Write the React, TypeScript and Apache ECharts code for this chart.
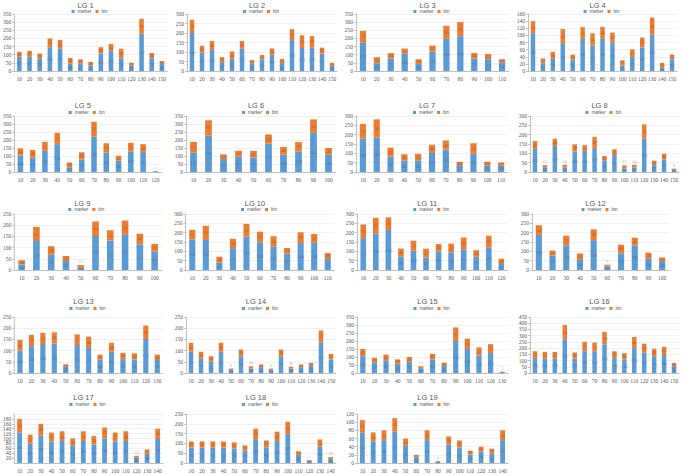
import React, { useEffect, useRef } from "react";
import * as echarts from "echarts";

const cats10 = ["10", "20", "30", "40", "50", "60", "70", "80", "90", "100"];
const cats11 = ["10", "20", "30", "40", "50", "60", "70", "80", "90", "100", "110"];
const cats12 = ["10", "20", "30", "40", "50", "60", "70", "80", "90", "100", "110", "120"];
const cats13 = ["10", "20", "30", "40", "50", "60", "70", "80", "90", "100", "110", "120", "130"];
const cats14 = ["10", "20", "30", "40", "50", "60", "70", "80", "90", "100", "110", "120", "130", "140"];
const cats15 = ["10", "20", "30", "40", "50", "60", "70", "80", "90", "100", "110", "120", "130", "140", "150"];

const lg1Marker = [87, 87, 76, 146, 137, 46, 47, 35, 107, 122, 78, 33, 229, 78, 48];
const lg1Bin = [31, 37, 31, 54, 54, 34, 25, 21, 39, 44, 59, 18, 92, 33, 13];
const lg2Marker = [200, 97, 110, 47, 65, 117, 41, 61, 85, 42, 163, 121, 122, 91, 29];
const lg2Bin = [70, 36, 48, 26, 38, 41, 16, 23, 34, 21, 57, 67, 62, 32, 14];
const lg3Marker = [173, 48, 76, 106, 43, 119, 198, 214, 77, 72, 54];
const lg3Bin = [73, 37, 34, 32, 29, 37, 80, 87, 34, 32, 18];
const lg4Marker = [106, 22, 34, 76, 32, 90, 72, 90, 79, 15, 39, 66, 102, 10, 33];
const lg4Bin = [34, 13, 20, 42, 14, 33, 34, 34, 29, 15, 22, 28, 48, 13, 13];
const lg5Marker = [104, 89, 132, 174, 29, 78, 222, 122, 70, 127, 125, 3];
const lg5Bin = [44, 49, 57, 71, 30, 46, 92, 58, 32, 55, 49, 2];
const lg6Marker = [121, 228, 81, 97, 91, 177, 108, 128, 245, 108];
const lg6Bin = [67, 95, 29, 36, 41, 58, 48, 59, 84, 42];
const lg7Marker = [180, 184, 83, 62, 62, 102, 120, 37, 98, 36, 34];
const lg7Bin = [77, 98, 47, 33, 35, 44, 49, 18, 56, 19, 17];
const lg8Marker = [123, 25, 139, 23, 110, 113, 129, 63, 91, 19, 25, 180, 37, 67, 12];
const lg8Bin = [43, 12, 40, 16, 38, 31, 59, 23, 31, 17, 14, 75, 24, 31, 6];
const lg9Marker = [25, 129, 68, 40, 10, 152, 132, 157, 115, 82];
const lg9Bin = [18, 63, 38, 23, 12, 64, 45, 64, 47, 35];
const lg10Marker = [163, 161, 41, 117, 179, 149, 127, 87, 144, 146, 59];
const lg10Bin = [52, 76, 30, 50, 68, 56, 54, 31, 58, 47, 32];
const lg11Marker = [171, 196, 214, 73, 104, 67, 99, 94, 111, 71, 119, 32];
const lg11Bin = [73, 83, 68, 42, 53, 47, 40, 47, 63, 35, 65, 28];
const lg12Marker = [188, 77, 132, 54, 160, 19, 90, 132, 60, 48];
const lg12Bin = [52, 27, 52, 35, 58, 9, 46, 41, 33, 19];
const lg13Marker = [100, 120, 130, 132, 28, 125, 112, 60, 95, 62, 60, 152, 58];
const lg13Bin = [48, 50, 50, 50, 10, 47, 50, 22, 40, 28, 28, 60, 24];
const lg14Marker = [95, 65, 52, 95, 14, 75, 20, 26, 14, 75, 20, 26, 32, 135, 60];
const lg14Bin = [40, 30, 23, 40, 6, 30, 10, 12, 6, 30, 8, 12, 13, 55, 25];
const lg15Marker = [105, 65, 80, 58, 70, 30, 85, 45, 200, 150, 110, 125, 5];
const lg15Bin = [45, 30, 35, 27, 30, 12, 35, 20, 85, 65, 50, 55, 3];
const lg16Marker = [120, 115, 118, 270, 115, 175, 170, 230, 120, 110, 200, 165, 135, 145, 55];
const lg16Bin = [55, 55, 52, 115, 50, 75, 75, 100, 55, 50, 90, 70, 60, 65, 25];
const lg17Marker = [125, 80, 112, 88, 90, 70, 90, 76, 100, 88, 90, 20, 38, 98];
const lg17Bin = [55, 35, 48, 37, 40, 30, 40, 34, 45, 37, 40, 10, 17, 42];
const lg18Marker = [78, 78, 78, 78, 74, 63, 122, 80, 112, 147, 42, 10, 84, 20];
const lg18Bin = [32, 32, 32, 32, 31, 27, 53, 35, 48, 63, 18, 5, 36, 10];
const lg19Marker = [74, 52, 56, 77, 42, 14, 56, 3, 45, 38, 21, 28, 24, 56];
const lg19Bin = [31, 23, 24, 33, 18, 6, 24, 2, 20, 17, 9, 12, 11, 24];

const panelTitles = ["LG 1", "LG 2", "LG 3", "LG 4", "LG 5", "LG 6", "LG 7", "LG 8", "LG 9", "LG 10",
  "LG 11", "LG 12", "LG 13", "LG 14", "LG 15", "LG 16", "LG 17", "LG 18", "LG 19"];
const yMaxes = [350, 300, 350, 160, 350, 350, 300, 300, 250, 300, 300, 300, 250, 250, 350, 450, 200, 250, 120];
const ySteps = [50, 50, 50, 20, 50, 50, 50, 50, 50, 50, 50, 50, 50, 50, 50, 50, 20, 50, 20];
const legendNames = ["marker", "bin"];

const panelCats = [cats15, cats15, cats11, cats15, cats12, cats10, cats11, cats15, cats10, cats11,
  cats12, cats10, cats13, cats15, cats13, cats15, cats14, cats14, cats14];
const panelMarker = [lg1Marker, lg2Marker, lg3Marker, lg4Marker, lg5Marker, lg6Marker, lg7Marker, lg8Marker,
  lg9Marker, lg10Marker, lg11Marker, lg12Marker, lg13Marker, lg14Marker, lg15Marker, lg16Marker,
  lg17Marker, lg18Marker, lg19Marker];
const panelBin = [lg1Bin, lg2Bin, lg3Bin, lg4Bin, lg5Bin, lg6Bin, lg7Bin, lg8Bin, lg9Bin, lg10Bin,
  lg11Bin, lg12Bin, lg13Bin, lg14Bin, lg15Bin, lg16Bin, lg17Bin, lg18Bin, lg19Bin];

// layout: [left, right, top, bottom] of each plot area in page pixels
const layout: number[][] = [
  [14, 167, 14, 71], [187, 337, 14, 71], [356, 509, 14, 71], [528, 677, 14, 71],
  [14, 161.5, 116, 172], [186, 336, 116, 172], [356, 508, 116, 172], [530, 679, 116, 172],
  [12.5, 162, 214, 270], [185.5, 334.5, 214, 270], [357, 507.6, 214, 270], [532, 669, 214, 270],
  [14, 163, 317, 373], [186, 336, 317, 373], [357, 508, 317, 373], [530, 679, 317, 373],
  [14, 163, 414, 463], [186, 336, 414, 463], [357, 508, 414, 463],
];
const rowTitleTop = [1.5, 101.5, 199.5, 297.5, 393.5];
const rowLegendTop = [9, 110, 207, 306, 402];

const W = 685;
const H = 475;
const BLUE = "#5B9BD5";
const ORANGE = "#ED7D31";
const TXT = "#595959";

export default function App() {
  const ref = useRef<HTMLDivElement>(null);
  useEffect(() => {
    if (!ref.current) return;
    const chart = echarts.init(ref.current, undefined, { renderer: "svg", width: W, height: H });
    const grid: any[] = [];
    const xAxis: any[] = [];
    const yAxis: any[] = [];
    const title: any[] = [];
    const legend: any[] = [];
    const series: any[] = [];
    layout.forEach((l, i) => {
      const row = Math.floor(i / 4);
      const [left, right, top, bottom] = l;
      const cx = (left + right) / 2 - 5;
      const plotH = bottom - top;
      grid.push({ left, top, width: right - left, height: plotH, containLabel: false });
      xAxis.push({
        type: "category",
        gridIndex: i,
        data: panelCats[i],
        axisLine: { lineStyle: { color: "#bfbfbf", width: 1 } },
        axisTick: { show: false },
        axisLabel: { fontSize: 5.5, color: TXT, margin: 5, interval: 0, fontFamily: "Liberation Serif" },
      });
      yAxis.push({
        type: "value",
        gridIndex: i,
        min: 0,
        max: yMaxes[i],
        interval: ySteps[i],
        axisLine: { show: true, lineStyle: { color: "#bfbfbf", width: 1 } },
        axisTick: { show: true, length: 2, lineStyle: { color: "#bfbfbf" } },
        splitLine: { lineStyle: { color: "#e6e6e6", width: 0.6 } },
        axisLabel: { fontSize: 5.5, color: TXT, margin: 3, fontFamily: "Liberation Serif" },
      });
      title.push({
        text: panelTitles[i],
        left: cx,
        top: rowTitleTop[row],
        textAlign: "center",
        padding: 0,
        textStyle: { fontSize: 7.5, fontWeight: "normal", color: TXT, fontFamily: "Liberation Sans" },
      });
      legend.push({
        data: legendNames,
        left: cx - 14,
        top: rowLegendTop[row],
        padding: 0,
        itemWidth: 3,
        itemHeight: 3,
        itemGap: 4,
        icon: "rect",
        textStyle: { fontSize: 4.5, color: TXT, padding: [0, 0, 0, -2], fontFamily: "Liberation Sans" },
      });
      const label = {
        show: true,
        position: "inside",
        fontSize: 4.5,
        color: "rgba(70,70,70,0.5)",
        fontFamily: "Liberation Serif",
      };
      const markerData = panelMarker[i];
      const binData = panelBin[i].map((v, k) => {
        const px = ((markerData[k] + v) / yMaxes[i]) * plotH;
        return px < 8 ? { value: v, label: { position: "top", distance: 1 } } : v;
      });
      series.push({
        name: "marker",
        type: "bar",
        stack: "s" + i,
        xAxisIndex: i,
        yAxisIndex: i,
        data: markerData,
        barWidth: "45%",
        itemStyle: { color: BLUE },
        label,
      });
      series.push({
        name: "bin",
        type: "bar",
        stack: "s" + i,
        xAxisIndex: i,
        yAxisIndex: i,
        data: binData,
        barWidth: "45%",
        itemStyle: { color: ORANGE },
        label,
      });
    });
    chart.setOption({
      animation: false,
      backgroundColor: "#ffffff",
      color: [BLUE, ORANGE],
      grid,
      xAxis,
      yAxis,
      title,
      legend,
      series,
    });
    return () => chart.dispose();
  }, []);
  return (
    <div
      ref={ref}
      style={{ position: "fixed", left: 0, top: 0, width: W, height: H, background: "#fff" }}
    />
  );
}
